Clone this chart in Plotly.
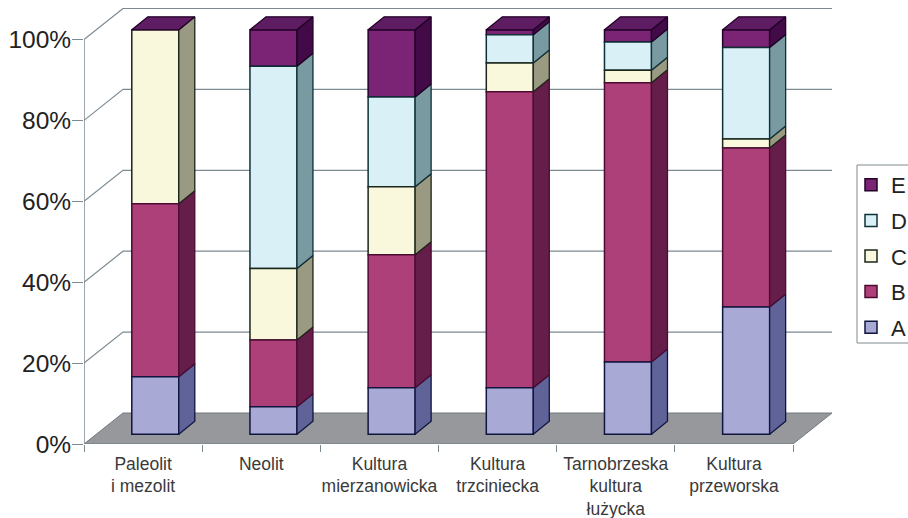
import plotly.graph_objects as go

categories = ["Paleolit<br>i mezolit", "Neolit", "Kultura<br>mierzanowicka", "Kultura<br>trzciniecka",
              "Tarnobrzeska<br>kultura<br>łużycka", "Kultura<br>przeworska"]
A = [14.2, 6.8, 11.5, 11.5, 17.9, 31.5]
B = [42.8, 16.5, 32.9, 73.2, 69.0, 39.3]
C = [43.0, 17.7, 16.8, 7.1, 3.1, 2.2]
D = [0.0, 50.0, 22.2, 7.0, 7.0, 22.6]
E = [0.0, 9.0, 16.6, 1.2, 3.0, 4.4]
series_names = ["A", "B", "C", "D", "E"]
series_values = [A, B, C, D, E]
front_colors = ["#a9a9d6", "#ad4079", "#f9f8dc", "#d9f0f6", "#7b2475"]
side_colors = ["#5f6398", "#651d49", "#9a9a82", "#7a9aa2", "#430a48"]
edge_colors = ["#10153f", "#4d0a33", "#1c261a", "#0f3038", "#220028"]
top_color = "#5e1c62"
y_ticks = [0, 20, 40, 60, 80, 100]
y_labels = ["0%", "20%", "40%", "60%", "80%", "100%"]

W, H = 908, 518
L, R, T, BM = 84, 76, 8, 74
px_x = 118.17
px_y = 4.045
x_max = (W - L - R) / px_x
y_max = (H - T - BM) / px_y
wall_dx, wall_dy = 39 / px_x, 31 / px_y
bar_w = 47 / px_x
bar_sx, bar_sy = 12.2 / px_x, 9.7 / px_y
dep_x, dep_y = 16 / px_x, 13 / px_y
n = len(categories)
GRID = "#7c8a93"
plot_w, plot_h = W - L - R, H - T - BM

shapes = []
floor = f"M0,0 L{wall_dx},{wall_dy} L{n + wall_dx},{wall_dy} L{n},0 Z"
shapes.append(dict(type="path", path=floor, fillcolor="#96989b", line=dict(color="#6f7a80", width=1), layer="below"))
for t in y_ticks[1:]:
    shapes.append(dict(type="path", path=f"M0,{t} L{wall_dx},{t + wall_dy} L{n + wall_dx},{t + wall_dy}",
                       line=dict(color=GRID, width=1.2), layer="below"))
shapes.append(dict(type="line", x0=0, x1=0, y0=0, y1=100, line=dict(color=GRID, width=1.5), layer="below"))
shapes.append(dict(type="line", x0=0, x1=n, y0=0, y1=0, line=dict(color=GRID, width=1.5), layer="below"))
# legend frame (open at the right edge, as in the reference)
shapes.append(dict(type="rect", xref="paper", yref="paper",
                   x0=(857 - L) / plot_w, x1=(915 - L) / plot_w,
                   y0=1 - (343 - T) / plot_h, y1=1 - (165 - T) / plot_h,
                   line=dict(color="#7f8a8f", width=1), fillcolor="white", layer="below"))

fig = go.Figure()
centres = [i + 0.5 for i in range(n)]
bases = []
cum = [bar_sy] * n
for vals in series_values:
    bases.append(cum[:])
    cum = [c + v for c, v in zip(cum, vals)]

for s in reversed(range(len(series_values))):
    fig.add_trace(go.Bar(
        x=[c + bar_sx for c in centres], y=series_values[s], base=bases[s], width=bar_w, name=series_names[s],
        legendgroup=series_names[s],
        marker=dict(color=front_colors[s], line=dict(color=edge_colors[s], width=1.5)),
    ))

for s, vals in enumerate(series_values):
    xs, ys = [], []
    for i in range(n):
        if vals[i] <= 0:
            continue
        x1 = centres[i] + bar_sx + bar_w / 2
        y0, y1 = bases[s][i], bases[s][i] + vals[i]
        xs += [x1, x1 + dep_x, x1 + dep_x, x1, x1, None]
        ys += [y0, y0 + dep_y, y1 + dep_y, y1, y0, None]
    fig.add_trace(go.Scatter(x=xs, y=ys, mode="lines", fill="toself", fillcolor=side_colors[s],
                             line=dict(color=edge_colors[s], width=1.3), showlegend=False, hoverinfo="skip"))
xs, ys = [], []
for i in range(n):
    x0 = centres[i] + bar_sx - bar_w / 2
    x1 = x0 + bar_w
    y = cum[i]
    xs += [x0, x0 + dep_x, x1 + dep_x, x1, x0, None]
    ys += [y, y + dep_y, y + dep_y, y, y, None]
fig.add_trace(go.Scatter(x=xs, y=ys, mode="lines", fill="toself", fillcolor=top_color,
                         line=dict(color="#220028", width=1.3), showlegend=False, hoverinfo="skip"))

fig.update_layout(
    width=W, height=H, margin=dict(l=L, r=R, t=T, b=BM, autoexpand=False, pad=0),
    paper_bgcolor="white", plot_bgcolor="rgba(0,0,0,0)", barmode="overlay",
    font=dict(family="Liberation Sans", color="#222222"),
    shapes=shapes,
    legend=dict(x=(851 - L) / plot_w, xanchor="left", y=1 - (164 - T) / plot_h, yanchor="top",
                traceorder="grouped", tracegroupgap=4, borderwidth=0,
                bgcolor="rgba(0,0,0,0)", font=dict(size=22, color="#222222")),
    xaxis=dict(range=[0, x_max], tickmode="array", tickvals=centres, ticktext=categories, ticks="",
               showgrid=False, zeroline=False, showline=False, tickfont=dict(size=17.5, color="#3a3a3a"),
               tickangle=0, ticklabelstandoff=7,
               minor=dict(tickmode="array", tickvals=list(range(n + 1)), ticks="outside",
                          ticklen=7, tickcolor=GRID, tickwidth=1.3, showgrid=False)),
    yaxis=dict(range=[0, y_max], tickmode="array", tickvals=y_ticks, ticktext=y_labels, ticks="outside",
               ticklen=11, tickcolor=GRID, tickwidth=1.3, showgrid=False, zeroline=False, showline=False,
               tickfont=dict(size=24.5, color="#222222"), ticklabelstandoff=-4),
)
fig.write_html("out.html", config=dict(displayModeBar=False), post_script="document.body.style.margin='0';")
